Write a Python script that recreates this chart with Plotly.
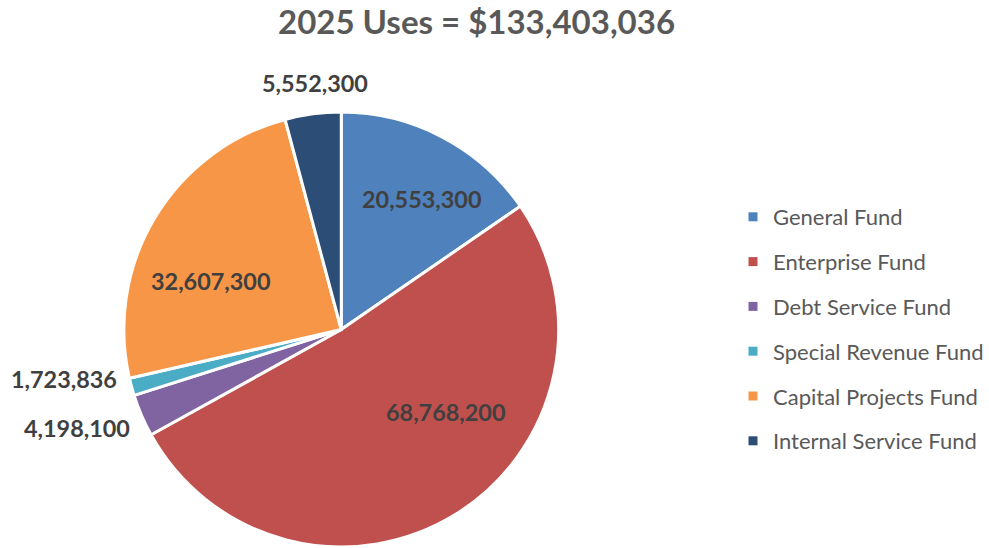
import plotly.graph_objects as go

# Fund uses for 2025
funds = ["General Fund", "Enterprise Fund", "Debt Service Fund",
         "Special Revenue Fund", "Capital Projects Fund", "Internal Service Fund"]
amounts = [20553300, 68768200, 4198100, 1723836, 32607300, 5552300]
colors = ["#4F81BD", "#C0504D", "#8064A2", "#4BACC6", "#F79646", "#2C4D75"]

# label placement (pixels from top-left) for each slice's value text
label_x = [424, 448, 77, 64, 212, 317]
label_y = [199, 412, 428, 379, 281, 83]

W, H = 989, 548
total = sum(amounts)
cx, cy, r = 343, 329.5, 218.5

fig = go.Figure()
fig.add_trace(go.Pie(
    labels=funds,
    values=amounts,
    sort=False,
    direction="clockwise",
    rotation=0,
    marker=dict(colors=colors, line=dict(color="white", width=3)),
    textinfo="none",
    showlegend=False,
    domain=dict(x=[(cx - r) / W, (cx + r) / W],
                y=[max(0, 1 - (cy + r) / H), 1 - (cy - r) / H]),
))

# legend entries, one group each so the rows can be spaced apart
for name, c in zip(funds, colors):
    fig.add_trace(go.Scatter(
        x=[None], y=[None], mode="markers", name=name,
        marker=dict(symbol="square", size=9, color=c),
        legendgroup=name, showlegend=True, hoverinfo="skip",
    ))

for v, xp, yp in zip(amounts, label_x, label_y):
    fig.add_annotation(
        x=xp / W, y=1 - yp / H, xref="paper", yref="paper",
        text=f"{v:,}", showarrow=False, xanchor="center", yanchor="middle",
        font=dict(family="Lato", size=23.4, color="#404040", weight="bold"),
    )

fig.add_annotation(
    x=479 / W, y=1 - 21 / H, xref="paper", yref="paper",
    text=f"{total:,}".join(["2025 Uses = $", ""]), showarrow=False,
    xanchor="center", yanchor="middle",
    font=dict(family="Lato", size=33, color="#595959", weight="bold"),
)

fig.update_layout(
    width=W, height=H,
    margin=dict(l=0, r=0, t=0, b=0),
    paper_bgcolor="white", plot_bgcolor="white",
    xaxis=dict(visible=False), yaxis=dict(visible=False),
    legend=dict(x=737 / W, xanchor="left", y=1 - 196 / H, yanchor="top",
                tracegroupgap=13.2,
                font=dict(family="Lato", size=22, color="#595959")),
)

fig.write_html("out.html")
